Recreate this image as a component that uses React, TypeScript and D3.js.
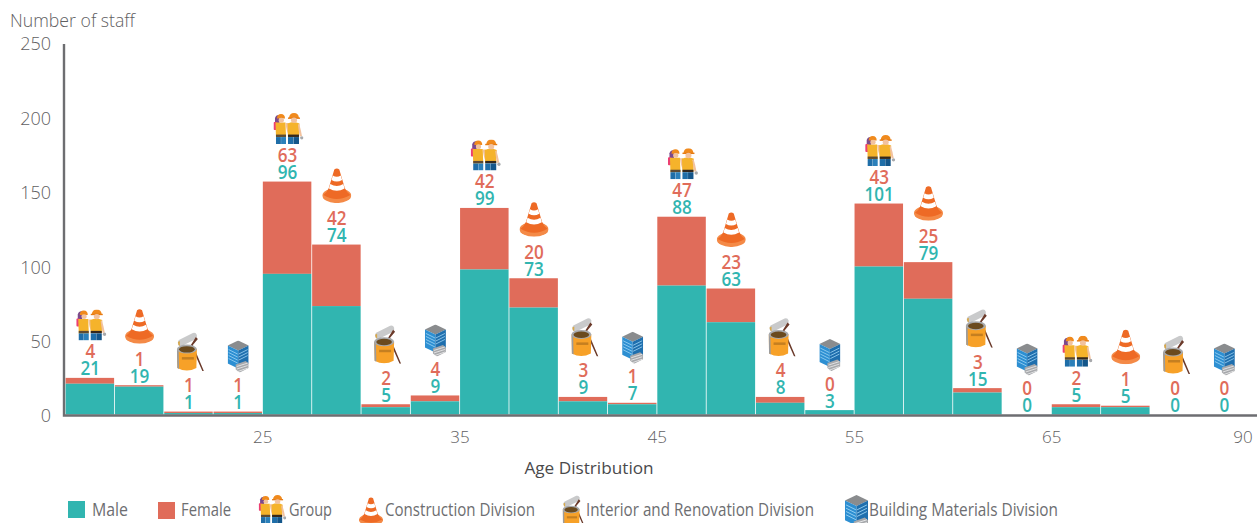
import React from "react";
import * as d3 from "d3";

const maleValues = [21, 19, 1, 1, 96, 74, 5, 9, 99, 73, 9, 7, 88, 63, 8, 3, 101, 79, 15, 0, 5, 5, 0, 0];
const femaleValues = [4, 1, 1, 1, 63, 42, 2, 4, 42, 20, 3, 1, 47, 23, 4, 0, 43, 25, 3, 0, 2, 1, 0, 0];
const divisions = ["group", "cone", "paint", "building"];
const yTicks = [0, 50, 100, 150, 200, 250];
const xTickLabels = ["25", "35", "45", "55", "65", "90"];
const xTickSlots = [4, 8, 12, 16, 20, 24];

const TEAL = "#31b5b0";
const RED = "#e06c5a";
const GRAY = "#5f6062";
const FONT = "'Open Sans', sans-serif";

const xScale = d3.scaleLinear().domain([0, 24]).range([65.6, 1249]);
const yAxisScale = d3.scaleLinear().domain([0, 250]).range([416, 44]);
const yBar = d3.scaleLinear().domain([0, 250]).range([414.5, 48.25]);

function Symbols() {
  return (
    <defs>
      <symbol id="group" viewBox="0 0 30 31">
        <path d="M1.5 5 Q2.5 1.5 6 2 L6 13 L1.5 13Z" fill="#7b4a8c" />
        <rect x="0" y="9" width="3.5" height="8" rx="1" fill="#ec3f72" />
        <path d="M2 9.5 L12 9.5 L12.5 24 L2.5 24Z" fill="#f5b32b" />
        <rect x="2.5" y="21.5" width="10" height="2.4" fill="#5d4a32" />
        <rect x="2.5" y="24" width="4.9" height="7" fill="#1f6ea8" />
        <rect x="7.6" y="24" width="4.9" height="7" fill="#2b80ba" />
        <path d="M3.5 5.5 Q3.5 1 7.5 1 Q11.5 1 11.5 5.5Z" fill="#f08a1d" />
        <ellipse cx="7.8" cy="7.2" rx="2.6" ry="2.4" fill="#f2c29e" />
        <path d="M12 10 Q13 18 15 22 L17 22 L15 10Z" fill="#f2c29e" />
        <path d="M14 10.5 Q20 7.5 26 10.5 L25.5 23.5 L14.5 23.5Z" fill="#f5b32b" />
        <rect x="14.5" y="21.5" width="11" height="2.4" fill="#33281e" />
        <rect x="14.5" y="24" width="5.4" height="7" fill="#1f6ea8" />
        <rect x="20.1" y="24" width="5.4" height="7" fill="#14568a" />
        <path d="M15.5 5 Q16 0 20.5 0 Q25 0 25.5 5Z" fill="#f08a1d" />
        <rect x="14.5" y="4.4" width="12" height="1.4" fill="#e57a12" />
        <ellipse cx="20.5" cy="7.2" rx="3" ry="2.7" fill="#f2c29e" />
        <path d="M25.5 10.5 Q27.5 17 28.5 23 L26.5 23.5 Q25 18 24.5 12Z" fill="#f2c29e" />
        <circle cx="28.3" cy="24.8" r="1.7" fill="#a7a9ac" />
      </symbol>
      <symbol id="cone" viewBox="0 0 29 35">
        <ellipse cx="14.5" cy="27.5" rx="14.5" ry="7.5" fill="#f48a47" />
        <path d="M12 1.5 Q14.5 -0.5 17 1.5 L22.5 20 Q24 24 28 27 Q14.5 35 1 27 Q5 24 6.5 20Z" fill="#ee6a25" />
        <path d="M10.5 7.5 Q14.5 10 18.5 7.5 L19.8 12 Q14.5 15 9.2 12Z" fill="#fff" />
        <path d="M8 16 Q14.5 20 21 16 L22.3 20.5 Q14.5 25 6.7 20.5Z" fill="#fff" />
      </symbol>
      <symbol id="paint" viewBox="0 0 28 39">
        <path d="M2 8 L16 1 Q19 0 20 3 L20 5 Q19 7 17 8 L5 14 Q1.5 15 1 11 Q1 9 2 8Z" fill="#c9cacb" />
        <path d="M3 14 Q1 13 1 10 L3 9Z" fill="#d8a84a" />
        <path d="M19 5 L21 7 L16 13 L27 39 L25.5 39 L14 13Z" fill="#6b3a2a" />
        <path d="M0 17 L20 17 L19.5 36 Q10 41 0.5 36Z" fill="#f7a128" />
        <path d="M0 17 L1.8 17 L2.2 37 L0.5 36Z" fill="#9b9c9e" />
        <ellipse cx="10" cy="17" rx="10" ry="4.5" fill="#a7a9ac" />
        <ellipse cx="10" cy="17.3" rx="7.8" ry="3.2" fill="#6a4a1e" />
        <rect x="5" y="25" width="12" height="2.5" fill="#c57f20" />
      </symbol>
      <symbol id="building" viewBox="0 0 21 32">
        <path d="M10.5 0 L21 5 L10.5 10 L0 5Z" fill="#8a8c8e" />
        <path d="M0 5 L10.5 10 L10.5 28 L0 23Z" fill="#2d8fd2" />
        <path d="M21 5 L10.5 10 L10.5 28 L21 23Z" fill="#1f6fae" />
        <g stroke="#9fd6f5" strokeWidth="0.8">
          <path d="M1 9 L10 13.5 M1 12 L10 16.5 M1 15 L10 19.5 M1 18 L10 22.5" />
          <path d="M11 13.5 L20 9 M11 16.5 L20 12 M11 19.5 L20 15" />
        </g>
        <path d="M8 24 L18 20.5 L21 23 L21 27.5 L12 32 L8 29Z" fill="#a7a9ac" />
        <path d="M9 26 L20 22.5 M9 28.5 L20 25 M10 31 L20 27.5" stroke="#e6e7e8" strokeWidth="0.9" />
      </symbol>
    </defs>
  );
}

const iconSize: Record<string, { w: number; h: number; dy: number; dx: number }> = {
  group: { w: 30, h: 31, dy: -53, dx: 1 },
  cone: { w: 29, h: 35, dy: -59, dx: 0 },
  paint: { w: 28, h: 39, dy: -60, dx: 2 },
  building: { w: 21, h: 32, dy: -55, dx: 0 },
};

function Icon({ name, cx, cy }: { name: string; cx: number; cy: number }) {
  const s = iconSize[name];
  return <use href={`#${name}`} x={cx - s.w / 2} y={cy - s.h / 2} width={s.w} height={s.h} />;
}

const legendSwatches = [
  { label: "Male", color: TEAL, x: 68, y: 501, tx: 92, tw: 36 },
  { label: "Female", color: RED, x: 158, y: 502, tx: 181, tw: 50 },
];
const legendIcons = [
  { label: "Group", name: "group", x: 272.5, y: 495, tx: 289, tw: 43, scale: 0.92 },
  { label: "Construction Division", name: "cone", x: 371, y: 497, tx: 385, tw: 150, scale: 0.83 },
  { label: "Interior and Renovation Division", name: "paint", x: 574.5, y: 495, tx: 586, tw: 228, scale: 0.85 },
  { label: "Building Materials Division", name: "building", x: 856.5, y: 495, tx: 869, tw: 189, scale: 1.1 },
];

export default function App() {
  const w = xScale(1) - xScale(0);
  return (
    <svg width={1257} height={523} style={{ position: "absolute", left: 0, top: 0, background: "#fff" }} fontFamily={FONT}>
      <Symbols />
      {maleValues.map((m, i) => {
        const f = femaleValues[i];
        const x = xScale(i);
        const topM = yBar(m);
        const top = yBar(m + f);
        const cx = x + w / 2;
        const name = divisions[i % 4];
        const s = iconSize[name];
        return (
          <g key={i}>
            {f > 0 && <rect x={x} y={top} width={w - 0.8} height={topM - top} fill={RED} />}
            {m > 0 && <rect x={x} y={topM} width={w - 0.8} height={yBar(0) - topM} fill={TEAL} />}
            <text
              transform={`translate(${cx},${top}) scale(0.9,1)`}
              textAnchor="middle"
              fontSize={19}
              fontWeight={600}
            >
              <tspan x={0} y={-19.5} fill={RED}>{f}</tspan>
              <tspan x={0} y={-2.5} fill={TEAL}>{m}</tspan>
            </text>
            <Icon name={name} cx={cx + s.dx} cy={top + s.dy} />
          </g>
        );
      })}
      <path d="M64 44 V415.5 H1257" fill="none" stroke="#6d6e71" strokeWidth={2.4} />
      {yTicks.map((t) => (
        <text key={t} x={51} y={yAxisScale(t)} dy="0.35em" textAnchor="end" fontSize={18} fontWeight={300} fill={GRAY}>{t}</text>
      ))}
      {xTickLabels.map((t, i) => (
        <text key={t} x={i === 5 ? 1243 : xScale(xTickSlots[i])} y={443} textAnchor="middle" fontSize={17} fontWeight={300} fill={GRAY}>{t}</text>
      ))}
      <text x={10} y={27} fontSize={18} fontWeight={300} fill={GRAY} textLength={125} lengthAdjust="spacingAndGlyphs">Number of staff</text>
      <text x={589} y={474} textAnchor="middle" fontSize={17.2} fontWeight={400} fill="#4a4a4c">Age Distribution</text>
      {legendSwatches.map((l) => (
        <g key={l.label}>
          <rect x={l.x} y={l.y} width={17} height={17} fill={l.color} />
          <text x={l.tx} y={516} fontSize={18} fill="#6d6e71" textLength={l.tw} lengthAdjust="spacingAndGlyphs">{l.label}</text>
        </g>
      ))}
      {legendIcons.map((l) => {
        const s = iconSize[l.name];
        const iw = s.w * l.scale;
        const ih = s.h * l.scale;
        return (
          <g key={l.label}>
            <use href={`#${l.name}`} x={l.x - iw / 2} y={l.y} width={iw} height={ih} />
            <text x={l.tx} y={516} fontSize={18} fill="#6d6e71" textLength={l.tw} lengthAdjust="spacingAndGlyphs">{l.label}</text>
          </g>
        );
      })}
    </svg>
  );
}
